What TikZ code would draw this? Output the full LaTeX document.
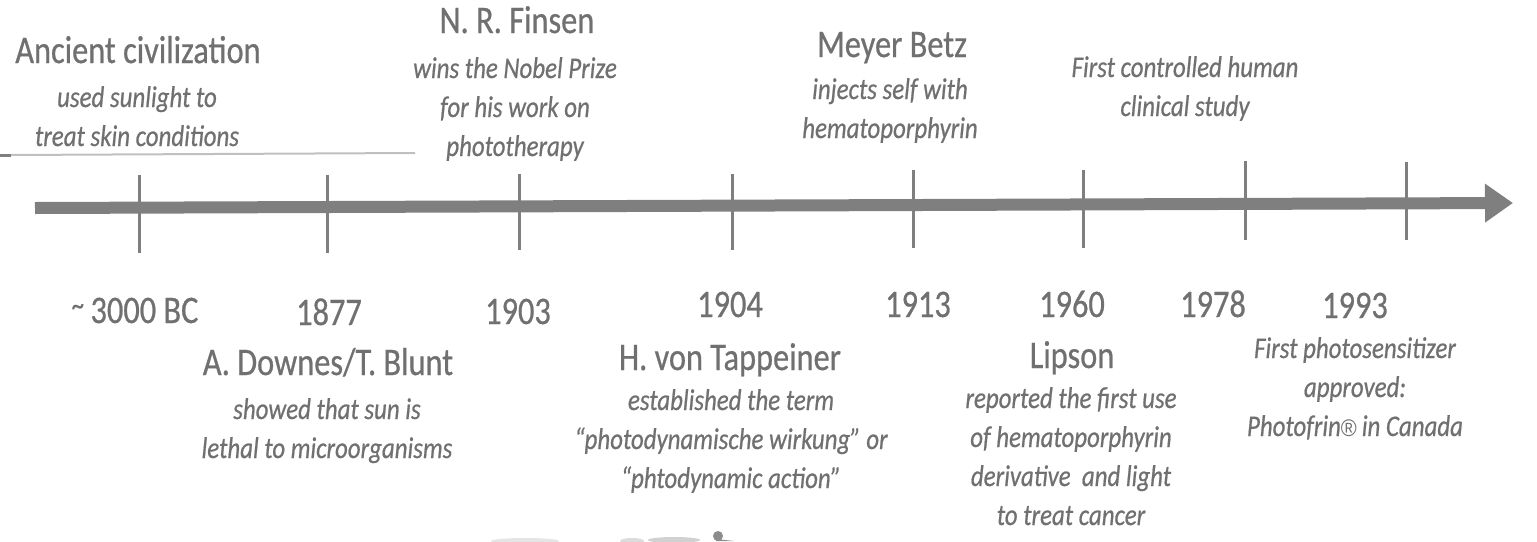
\documentclass[tikz,border=0pt]{standalone}
\usepackage{fontspec}
\setmainfont[FakeStretch=0.83, FakeBold=0.6]{Carlito}
\newfontfamily\regfont[FakeStretch=0.9]{Liberation Sans}
\usetikzlibrary{arrows.meta}
\definecolor{inkgray}{RGB}{112,112,112}
\definecolor{bargray}{RGB}{127,127,127}
\definecolor{rulegray}{RGB}{192,192,192}
\begin{document}
\begin{tikzpicture}[x=1pt,y=-1pt,
  title/.style={font=\fontsize{39}{39}\selectfont, text=inkgray, inner sep=0pt, anchor=base},
  yearlabel/.style={title},
  % multi-line descriptions: the base anchor sits on the last line
  desc/.style={font=\fontsize{30}{39}\selectfont\itshape, text=inkgray, inner sep=0pt, anchor=base, align=center},
  tickmark/.style={draw=bargray, line width=3pt},
  smudge/.style={fill=black!14, draw=none}]
\useasboundingbox (0,0) rectangle (1537,541);

% rule under the first entry
\draw[rulegray, line width=2pt] (11,155) -- (415,153);
\draw[bargray, line width=3pt] (0,155) -- (11,155);

% time axis
\coordinate (axstart) at (35,208);
\coordinate (axend) at (1513,203);
\draw[bargray, line width=12pt, -{Triangle[length=28pt,width=37pt]}] (axstart) -- (axend);

% ticks
\foreach \x/\ya/\yb in {139/175/253, 327/175/253, 519/174/250, 732/174/250,
                        913/170/248, 1083/170/248, 1245/161/240, 1406/162/240}
  \draw[tickmark] (\x,\ya) -- (\x,\yb);

% events above the axis
\node[title] (t1) at (138,63) {Ancient civilization};
\node[desc]  (d1) at (137,146) {used sunlight to\\treat skin conditions};
\node[title] (t3) at (517,33) {N. R. Finsen};
\node[desc]  (d3) at (515,156) {wins the Nobel Prize\\for his work on\\phototherapy};
\node[title] (t5) at (892,57) {Meyer Betz};
\node[desc]  (d5) at (890,138) {injects self with\\hematoporphyrin};
\node[desc]  (d7) at (1185,116) {First controlled human\\clinical study};

% years
\node[yearlabel] (y1) at (135,323) {\raisebox{8pt}{\fontsize{30}{30}\selectfont\textasciitilde}\,3000 BC};
\node[yearlabel] (y2) at (329,325) {1877};
\node[yearlabel] (y3) at (518,324) {1903};
\node[yearlabel] (y4) at (730,317) {1904};
\node[yearlabel] (y5) at (918,317) {1913};
\node[yearlabel] (y6) at (1072,317) {1960};
\node[yearlabel] (y7) at (1213,317) {1978};
\node[yearlabel] (y8) at (1355,318) {1993};

% events below the axis
\node[title] (t2) at (328,375) {A. Downes/T. Blunt};
\node[desc]  (d2) at (327,458) {showed that sun is\\lethal to microorganisms};
\node[title] (t4) at (730,370) {H. von Tappeiner};
\node[desc]  (d4) at (731,488) {established the term\\“photodynamische wirkung” or\\“phtodynamic action”};
\node[title] (t6) at (1072,368) {Lipson};
\node[desc]  (d6) at (1071,525) {reported the first use\\of hematoporphyrin\\derivative\ \ and light\\to treat cancer};
\node[desc]  (d8) at (1355,436) {First photosensitizer\\approved:\\Photofrin{\regfont\upshape\fontsize{24}{24}\selectfont ®}\,in Canada};

% faint shapes along the lower edge
\fill[smudge, fill=black!10] (525,541) ellipse (34 and 3);
\fill[smudge] (632,541) ellipse (12 and 3);
\fill[smudge, fill=black!18] (674,540) ellipse (26 and 3);
\fill[fill=black!45] (718,536) circle (5);
\fill[fill=black!45] (716,539) -- (734,541) -- (716,541) -- cycle;
\end{tikzpicture}
\end{document}
